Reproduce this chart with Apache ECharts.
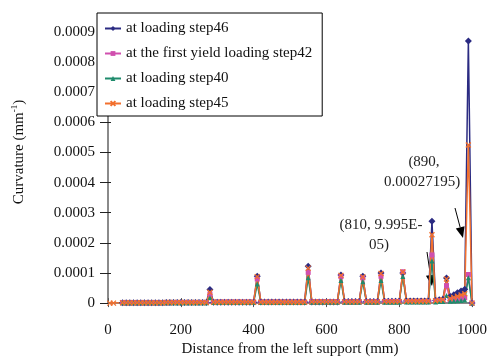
<!DOCTYPE html>
<html>
<head>
<meta charset="utf-8">
<script src="https://cdn.jsdelivr.net/npm/echarts@6/dist/echarts.min.js"></script>
<style>
  html, body { margin: 0; padding: 0; background: #fff; }
  #box { width: 490px; height: 362px; }
</style>
</head>
<body>
<div id="box"></div>
<script>
// distance from the left support (mm), 40..1000 every 10 mm
const distance = [
  40, 50, 60, 70, 80, 90, 100, 110, 120, 130,
  140, 150, 160, 170, 180, 190, 200, 210, 220, 230,
  240, 250, 260, 270, 280, 290, 300, 310, 320, 330,
  340, 350, 360, 370, 380, 390, 400, 410, 420, 430,
  440, 450, 460, 470, 480, 490, 500, 510, 520, 530,
  540, 550, 560, 570, 580, 590, 600, 610, 620, 630,
  640, 650, 660, 670, 680, 690, 700, 710, 720, 730,
  740, 750, 760, 770, 780, 790, 800, 810, 820, 830,
  840, 850, 860, 870, 880, 890, 900, 910, 920, 930,
  940, 950, 960, 970, 980, 990, 1000
];
// step 45 has two extra points near the support
const distanceStep45Start = [5, 15];
const curvStep45Start = [0, 0];

const seriesNames = [
  "at loading step46",
  "at the first yield loading step42",
  "at loading step40",
  "at loading step45"
];

const curvStep46 = [
  1e-6, 1e-6, 1e-6, 1e-6, 1e-6, 1e-6, 1e-6, 1e-6, 1e-6, 1e-6,
  1e-6, 1e-6, 2e-6, 2e-6, 2e-6, 2e-6, 2e-6, 2e-6, 2e-6, 2e-6,
  2e-6, 2e-6, 2e-6, 2e-6, 45e-6, 3e-6, 3e-6, 3e-6, 3e-6, 3e-6,
  3e-6, 3e-6, 3e-6, 3e-6, 3e-6, 3e-6, 3e-6, 89e-6, 4e-6, 4e-6,
  4e-6, 4e-6, 4e-6, 4e-6, 4e-6, 4e-6, 4e-6, 4e-6, 4e-6, 4e-6,
  4e-6, 122e-6, 4e-6, 4e-6, 4e-6, 4e-6, 4e-6, 4e-6, 4e-6, 4e-6,
  93e-6, 5e-6, 5e-6, 5e-6, 5e-6, 5e-6, 89e-6, 5e-6, 5e-6, 5e-6,
  5e-6, 100e-6, 6e-6, 6e-6, 6e-6, 6e-6, 6e-6, 99.95e-6, 7e-6, 7e-6,
  7e-6, 7e-6, 7e-6, 7e-6, 7e-6, 271.95e-6, 9e-6, 11e-6, 13e-6, 83e-6,
  22e-6, 28e-6, 34e-6, 40e-6, 46e-6, 870e-6, 0
];
const curvStep42 = [
  1e-6, 1e-6, 1e-6, 1e-6, 1e-6, 1e-6, 1e-6, 1e-6, 1e-6, 1e-6,
  1e-6, 1e-6, 1e-6, 1e-6, 2e-6, 2e-6, 2e-6, 2e-6, 2e-6, 2e-6,
  2e-6, 2e-6, 2e-6, 2e-6, 30e-6, 3e-6, 3e-6, 3e-6, 3e-6, 3e-6,
  3e-6, 3e-6, 3e-6, 3e-6, 3e-6, 3e-6, 3e-6, 80e-6, 3e-6, 3e-6,
  3e-6, 3e-6, 3e-6, 3e-6, 3e-6, 3e-6, 3e-6, 3e-6, 3e-6, 3e-6,
  3e-6, 102e-6, 4e-6, 4e-6, 4e-6, 4e-6, 4e-6, 4e-6, 4e-6, 4e-6,
  88e-6, 4e-6, 4e-6, 4e-6, 4e-6, 4e-6, 84e-6, 4e-6, 4e-6, 4e-6,
  4e-6, 89e-6, 5e-6, 5e-6, 5e-6, 5e-6, 5e-6, 104e-6, 5e-6, 5e-6,
  5e-6, 5e-6, 5e-6, 5e-6, 5e-6, 160e-6, 7e-6, 8e-6, 9e-6, 58e-6,
  10e-6, 12e-6, 14e-6, 16e-6, 18e-6, 95e-6, 0
];
const curvStep40 = [
  1e-6, 1e-6, 1e-6, 1e-6, 1e-6, 1e-6, 1e-6, 1e-6, 1e-6, 1e-6,
  1e-6, 1e-6, 1e-6, 1e-6, 1e-6, 1e-6, 1e-6, 1e-6, 1e-6, 1e-6,
  1e-6, 1e-6, 1e-6, 1e-6, 18e-6, 2e-6, 2e-6, 2e-6, 2e-6, 2e-6,
  2e-6, 2e-6, 2e-6, 2e-6, 2e-6, 2e-6, 2e-6, 63e-6, 2e-6, 2e-6,
  2e-6, 2e-6, 2e-6, 2e-6, 2e-6, 2e-6, 2e-6, 2e-6, 2e-6, 2e-6,
  2e-6, 84e-6, 3e-6, 3e-6, 3e-6, 3e-6, 3e-6, 3e-6, 3e-6, 3e-6,
  75e-6, 3e-6, 3e-6, 3e-6, 3e-6, 3e-6, 71e-6, 3e-6, 3e-6, 3e-6,
  3e-6, 75e-6, 3e-6, 3e-6, 3e-6, 3e-6, 3e-6, 88e-6, 4e-6, 4e-6,
  4e-6, 4e-6, 4e-6, 4e-6, 4e-6, 140e-6, 4e-6, 5e-6, 5e-6, 25e-6,
  6e-6, 7e-6, 8e-6, 9e-6, 10e-6, 84e-6, 0
];
const curvStep45 = [
  1e-6, 1e-6, 1e-6, 1e-6, 1e-6, 1e-6, 1e-6, 1e-6, 1e-6, 1e-6,
  1e-6, 1e-6, 2e-6, 2e-6, 2e-6, 2e-6, 2e-6, 2e-6, 2e-6, 2e-6,
  2e-6, 2e-6, 2e-6, 2e-6, 36e-6, 3e-6, 3e-6, 3e-6, 3e-6, 3e-6,
  3e-6, 3e-6, 3e-6, 3e-6, 3e-6, 3e-6, 3e-6, 88e-6, 3e-6, 3e-6,
  3e-6, 3e-6, 3e-6, 3e-6, 3e-6, 3e-6, 3e-6, 3e-6, 3e-6, 3e-6,
  3e-6, 116e-6, 4e-6, 4e-6, 4e-6, 4e-6, 4e-6, 4e-6, 4e-6, 4e-6,
  92e-6, 4e-6, 4e-6, 4e-6, 4e-6, 4e-6, 87e-6, 4e-6, 4e-6, 4e-6,
  4e-6, 98e-6, 5e-6, 5e-6, 5e-6, 5e-6, 5e-6, 103e-6, 6e-6, 6e-6,
  6e-6, 6e-6, 6e-6, 6e-6, 6e-6, 227e-6, 8e-6, 9e-6, 11e-6, 80e-6,
  15e-6, 19e-6, 23e-6, 27e-6, 31e-6, 525e-6, 0
];

const xTicks = [0, 200, 400, 600, 800, 1000];
const yTicks = [0, 0.0001, 0.0002, 0.0003, 0.0004, 0.0005, 0.0006, 0.0007, 0.0008, 0.0009];

const colors = ["#2b2b82", "#d04fae", "#1f8b6c", "#f2702e"];
const serif = "Liberation Serif";

function pairs(xs, ys) {
  return xs.map((x, i) => [x, ys[i]]);
}

// arrow = line + filled head
function arrow(x1, y1, x2, y2) {
  const a = Math.atan2(y2 - y1, x2 - x1);
  const len = 11, half = 4.5;
  const bx = x2 - len * Math.cos(a), by = y2 - len * Math.sin(a);
  const px = -Math.sin(a) * half, py = Math.cos(a) * half;
  return [
    { type: "line", shape: { x1: x1, y1: y1, x2: bx, y2: by }, style: { stroke: "#000", lineWidth: 1 } },
    { type: "polygon", shape: { points: [[x2, y2], [bx + px, by + py], [bx - px, by - py]] }, style: { fill: "#000" } }
  ];
}

var myChart = echarts.init(document.getElementById("box"));

const lineSeries = [
  { data: pairs(distance, curvStep46), symbol: "diamond", symbolSize: 7 },
  { data: pairs(distance, curvStep42), symbol: "rect", symbolSize: 5 },
  { data: pairs(distance, curvStep40), symbol: "triangle", symbolSize: 5 },
  {
    data: pairs(distanceStep45Start, curvStep45Start).concat(pairs(distance, curvStep45)),
    symbol: "path://M0,0L10,10M0,10L10,0", symbolSize: 5
  }
].map(function (s, i) {
  return {
    name: seriesNames[i],
    type: "line",
    data: s.data,
    symbol: s.symbol,
    symbolSize: s.symbolSize,
    showAllSymbol: true,
    xAxisIndex: 0,
    yAxisIndex: 0,
    lineStyle: { color: colors[i], width: 1.5 },
    itemStyle: { color: colors[i], borderColor: colors[i], borderWidth: i === 3 ? 1.3 : 0 }
  };
});

const axisCommon = {
  type: "value",
  axisLine: { show: true, lineStyle: { color: "#8a8a8a", width: 2 } },
  splitLine: { show: false }
};

let option = {
  animation: false,
  textStyle: { fontFamily: serif },
  grid: { left: 108, right: 18, top: 32, bottom: 56 },
  legend: {
    orient: "vertical",
    left: 97,
    top: 13,
    padding: [7, 10, 4, 7],
    itemGap: 8,
    itemWidth: 16,
    itemHeight: 6,
    backgroundColor: "#fff",
    borderColor: "#000",
    borderWidth: 1,
    textStyle: { fontFamily: serif, fontSize: 15, color: "#111", lineHeight: 17 },
    data: seriesNames
  },
  xAxis: [
    Object.assign({}, axisCommon, {
      min: 0, max: 1000, interval: 200,
      name: "Distance from the left support (mm)",
      nameLocation: "middle",
      nameGap: 34,
      nameTextStyle: { fontFamily: serif, fontSize: 15, color: "#111" },
      axisTick: { show: true, inside: false, length: 4, lineStyle: { color: "#555" } },
      axisLabel: { margin: 19, fontFamily: serif, fontSize: 15, color: "#111",
        formatter: function (v) { return xTicks.indexOf(v) >= 0 ? String(v) : ""; } }
    }),
    Object.assign({}, axisCommon, {
      min: 0, max: 1000, interval: 200, position: "bottom",
      axisLine: { show: false },
      axisTick: { show: true, inside: true, length: 5, lineStyle: { color: "#555" } },
      axisLabel: { show: false }
    })
  ],
  yAxis: [
    Object.assign({}, axisCommon, {
      min: 0, max: 0.0009, interval: 0.0001,
      axisTick: { show: true, inside: false, length: 8, lineStyle: { color: "#222" } },
      axisLabel: { margin: 13, fontFamily: serif, fontSize: 15, color: "#111",
        formatter: function (v) {
          const t = yTicks.find((y) => Math.abs(y - v) < 1e-9);
          return t === 0 ? "0" : t.toFixed(4);
        } }
    }),
    Object.assign({}, axisCommon, {
      min: 0, max: 0.0009, interval: 0.0001, position: "left",
      axisLine: { show: false },
      axisTick: { show: true, inside: true, length: 3, lineStyle: { color: "#222" } },
      axisLabel: { show: false }
    })
  ],
  graphic: [
    {
      type: "text", x: 19, y: 152, rotation: Math.PI / 2,
      style: {
        text: "{a|Curvature (mm}{b|-1}{a|)}",
        align: "center", verticalAlign: "middle",
        rich: {
          a: { fontFamily: serif, fontSize: 15, fill: "#111", lineHeight: 18 },
          b: { fontFamily: serif, fontSize: 9, fill: "#111", verticalAlign: "top", lineHeight: 18 }
        }
      }
    },
    { type: "text", x: 424, y: 162, style: { text: "(890,", align: "center", verticalAlign: "middle", font: "15px 'Liberation Serif'", fill: "#222" } },
    { type: "text", x: 422, y: 182, style: { text: "0.00027195)", align: "center", verticalAlign: "middle", font: "15px 'Liberation Serif'", fill: "#222" } },
    { type: "text", x: 381, y: 225, style: { text: "(810, 9.995E-", align: "center", verticalAlign: "middle", font: "15px 'Liberation Serif'", fill: "#222" } },
    { type: "text", x: 379, y: 245, style: { text: "05)", align: "center", verticalAlign: "middle", font: "15px 'Liberation Serif'", fill: "#222" } }
  ].concat(arrow(455, 208, 463, 238)).concat(arrow(427, 252, 432, 286)),
  series: lineSeries
};

myChart.setOption(option);
</script>
</body>
</html>
